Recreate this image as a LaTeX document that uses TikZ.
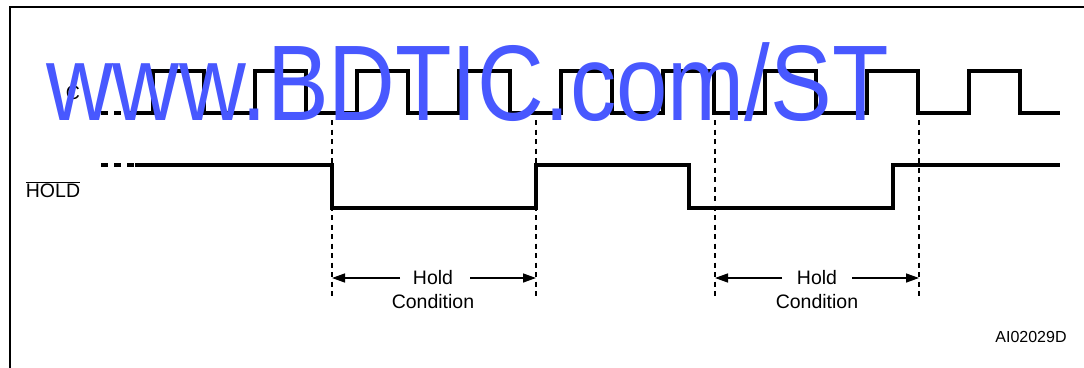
\documentclass[tikz,border=0pt]{standalone}
\usepackage{fontspec}
\setmainfont{Liberation Sans}
\usetikzlibrary{arrows.meta}
\definecolor{wmblue}{RGB}{72,88,255}
\tikzset{
  sig/.style={line width=3.2pt, line join=miter, line cap=butt},
  sigdash/.style={line width=3.2pt, dash pattern=on 6.5pt off 6.5pt},
  guide/.style={line width=1.3pt, dash pattern=on 5pt off 4.5pt},
  dimarrow/.style={line width=1.4pt, -{Triangle[length=13pt,width=9pt]}},
  lbl/.style={inner sep=0pt, font=\fontsize{19.5}{22}\selectfont},
  small/.style={inner sep=0pt, font=\fontsize{16}{19}\selectfont},
  frame/.style={line width=2.6pt},
  wm/.style={inner sep=0pt, text=wmblue, anchor=base west, xscale=0.86,
    font=\fontsize{107.5}{110}\selectfont}
}
\begin{document}
\begin{tikzpicture}[x=1pt,y=-1pt]
\useasboundingbox (0,0) rectangle (1084,367);
% frame
\coordinate (ftl) at (10,7);
\coordinate (ftr) at (1086,7);
\coordinate (fbl) at (10,369);
\draw[frame] (ftr) -- (ftl) -- (fbl);
% labels
\node[lbl] (clab) at (73,93) {C};
\node[lbl] (hlab) at (53,190) {$\overline{\mbox{HOLD}}$};
% clock
\coordinate (cd0) at (101,113);
\coordinate (cs0) at (135,113);
\draw[sigdash] (cd0) -- (cs0);
\draw[sig] (cs0) foreach \i in {0,...,8} {
  -- ({153+102*\i},113) -- ({153+102*\i},71) -- ({204+102*\i},71) -- ({204+102*\i},113)
} -- (1060,113);
% hold
\coordinate (hd0) at (101,165);
\coordinate (hs0) at (135,165);
\coordinate (hend) at (1060,165);
\draw[sigdash] (hd0) -- (hs0);
\draw[sig] (hs0) -- (332,165) -- (332,208) -- (536,208) -- (536,165)
  -- (689,165) -- (689,208) -- (893,208) -- (893,165) -- (hend);
% guides
\foreach \n/\x in {g1/332,g2/536,g3/715,g4/919} {
  \coordinate (\n t) at (\x,120);
  \coordinate (\n b) at (\x,296);
  \draw[guide] (\n t) -- (\n b);
}
% hold condition labels
\node[lbl] (hold1) at (433,278) {Hold};
\node[lbl] (cond1) at (433,302) {Condition};
\node[lbl] (hold2) at (817,278) {Hold};
\node[lbl] (cond2) at (817,302) {Condition};
\coordinate (a1l) at (400,278);
\coordinate (a1r) at (470,278);
\coordinate (a2l) at (782,278);
\coordinate (a2r) at (852,278);
\draw[dimarrow] (a1l) -- (332,278);
\draw[dimarrow] (a1r) -- (536,278);
\draw[dimarrow] (a2l) -- (715,278);
\draw[dimarrow] (a2r) -- (919,278);
\node[small] (ref) at (1031,337) {AI02029D};
% watermark
\node[wm] (wmk) at (46,120) {www.BDTIC.com/ST};
\end{tikzpicture}
\end{document}
